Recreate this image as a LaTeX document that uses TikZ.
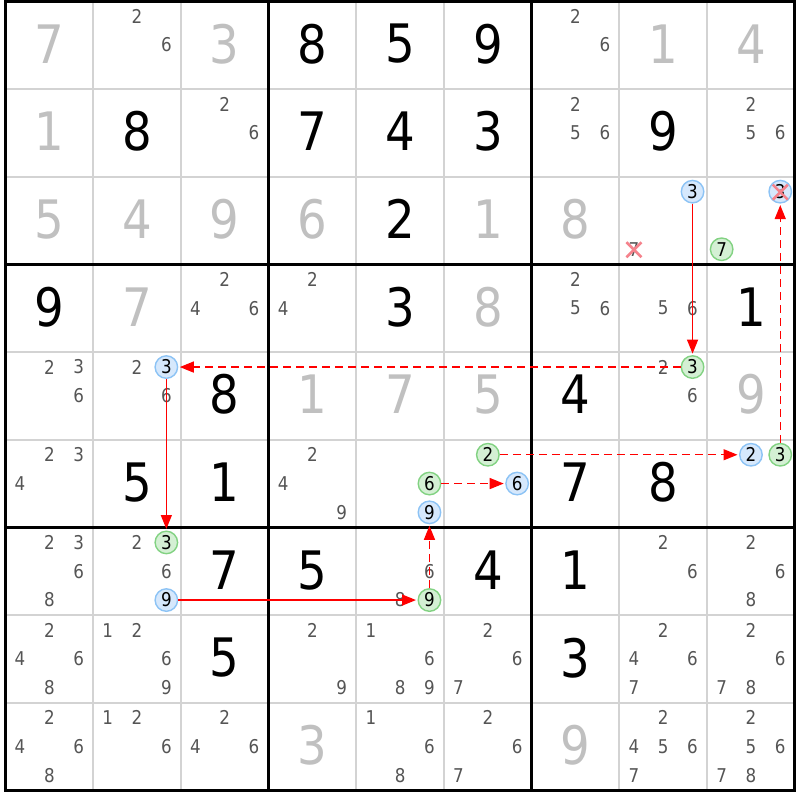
\documentclass[tikz,border=0pt]{standalone}
\usepackage{fontspec}
\setmainfont{DejaVu Sans}[FakeStretch=0.88]
\usetikzlibrary{arrows.meta}
\definecolor{gridgray}{RGB}{211,211,211}
\definecolor{givgray}{RGB}{192,192,192}
\definecolor{candgray}{RGB}{85,85,85}
\definecolor{bluefill}{RGB}{214,232,252}
\definecolor{blueline}{RGB}{140,195,245}
\definecolor{greenfill}{RGB}{212,240,212}
\definecolor{greenline}{RGB}{130,210,130}
\definecolor{xred}{RGB}{245,130,140}
\def\cs{87.7}
\def\xo{5.5}
\def\yo{1.5}
\newcommand\mygv[4]{\node[bigdig,text=#4] (g#1#2) at ({\xo+(#2-0.5)*\cs},{\yo+(#1-0.5)*\cs-1.5}) {#3};}
\newcommand\mycand[4]{%
 \pgfmathsetmacro\mycx{\xo+(#2-0.5)*\cs+(mod(#3-1,3)-1)*29.3}%
 \pgfmathsetmacro\mycy{\yo+(#1-0.5)*\cs+(floor((#3-1)/3)-1)*28.8-0.3}%
 \node[cand,#4] (c#1#2#3) at (\mycx,\mycy) {#3};}
\newcommand\mycl[3]{\foreach \dg in {#3}{\mycand{#1}{#2}{\dg}{}}}
\tikzset{
 bigdig/.style={inner sep=0pt, font=\fontsize{53}{53}\selectfont},
 cand/.style={circle, inner sep=0pt, minimum size=22.5pt, text=candgray, font=\fontsize{19}{19}\selectfont},
 bluec/.style={fill=bluefill, draw=blueline, line width=1.4pt, text=black},
 greenc/.style={fill=greenfill, draw=greenline, line width=1.4pt, text=black},
 arr/.style={red, line width=1.4pt, -{Triangle[length=14pt,width=11pt]}, shorten >=1.5pt},
 dsh/.style={dash pattern=on 8pt off 5pt},
 xm/.style={draw=xred, line width=2.6pt},
 gridthin/.style={draw=gridgray, line width=2pt},
 gridthick/.style={draw=black, line width=3pt},
}
\begin{document}
\begin{tikzpicture}[x=1pt,y=-1pt]
\useasboundingbox[fill=white] (0,0) rectangle (800,800);
% grid
\foreach \i in {1,2,4,5,7,8}{
 \draw[gridthin] ({\xo+\i*\cs},\yo) -- ({\xo+\i*\cs},{\yo+9*\cs});
 \draw[gridthin] (\xo,{\yo+\i*\cs}) -- ({\xo+9*\cs},{\yo+\i*\cs});
}
\foreach \i in {0,3,6,9}{
 \draw[gridthick] ({\xo+\i*\cs},\yo-1.5) -- ({\xo+\i*\cs},{\yo+9*\cs+1.5});
 \draw[gridthick] (\xo-1.5,{\yo+\i*\cs}) -- ({\xo+9*\cs+1.5},{\yo+\i*\cs});
}
% large digits
\mygv{1}{1}{7}{givgray}\mygv{1}{3}{3}{givgray}\mygv{1}{4}{8}{black}\mygv{1}{5}{5}{black}\mygv{1}{6}{9}{black}\mygv{1}{8}{1}{givgray}\mygv{1}{9}{4}{givgray}
\mygv{2}{1}{1}{givgray}\mygv{2}{2}{8}{black}\mygv{2}{4}{7}{black}\mygv{2}{5}{4}{black}\mygv{2}{6}{3}{black}\mygv{2}{8}{9}{black}
\mygv{3}{1}{5}{givgray}\mygv{3}{2}{4}{givgray}\mygv{3}{3}{9}{givgray}\mygv{3}{4}{6}{givgray}\mygv{3}{5}{2}{black}\mygv{3}{6}{1}{givgray}\mygv{3}{7}{8}{givgray}
\mygv{4}{1}{9}{black}\mygv{4}{2}{7}{givgray}\mygv{4}{5}{3}{black}\mygv{4}{6}{8}{givgray}\mygv{4}{9}{1}{black}
\mygv{5}{3}{8}{black}\mygv{5}{4}{1}{givgray}\mygv{5}{5}{7}{givgray}\mygv{5}{6}{5}{givgray}\mygv{5}{7}{4}{black}\mygv{5}{9}{9}{givgray}
\mygv{6}{2}{5}{black}\mygv{6}{3}{1}{black}\mygv{6}{7}{7}{black}\mygv{6}{8}{8}{black}
\mygv{7}{3}{7}{black}\mygv{7}{4}{5}{black}\mygv{7}{6}{4}{black}\mygv{7}{7}{1}{black}
\mygv{8}{3}{5}{black}\mygv{8}{7}{3}{black}
\mygv{9}{4}{3}{givgray}\mygv{9}{7}{9}{givgray}
% candidates
\mycl{1}{2}{2,6}\mycl{1}{7}{2,6}
\mycl{2}{3}{2,6}\mycl{2}{7}{2,5,6}\mycl{2}{9}{2,5,6}
\mycand{3}{8}{3}{bluec}\mycand{3}{8}{7}{}
\mycand{3}{9}{3}{bluec}\mycand{3}{9}{7}{greenc}
\mycl{4}{3}{2,4,6}\mycl{4}{4}{2,4}\mycl{4}{7}{2,5,6}\mycl{4}{8}{5,6}
\mycl{5}{1}{2,3,6}\mycl{5}{2}{2,6}\mycand{5}{2}{3}{bluec}\mycl{5}{8}{2,6}\mycand{5}{8}{3}{greenc}
\mycl{6}{1}{2,3,4}\mycl{6}{4}{2,4,9}\mycand{6}{5}{6}{greenc}\mycand{6}{5}{9}{bluec}
\mycand{6}{6}{2}{greenc}\mycand{6}{6}{6}{bluec}\mycand{6}{9}{2}{bluec}\mycand{6}{9}{3}{greenc}
\mycl{7}{1}{2,3,6,8}\mycl{7}{2}{2,6}\mycand{7}{2}{3}{greenc}\mycand{7}{2}{9}{bluec}
\mycl{7}{5}{6,8}\mycand{7}{5}{9}{greenc}\mycl{7}{8}{2,6}\mycl{7}{9}{2,6,8}
\mycl{8}{1}{2,4,6,8}\mycl{8}{2}{1,2,6,9}\mycl{8}{4}{2,9}\mycl{8}{5}{1,6,8,9}\mycl{8}{6}{2,6,7}\mycl{8}{8}{2,4,6,7}\mycl{8}{9}{2,6,7,8}
\mycl{9}{1}{2,4,6,8}\mycl{9}{2}{1,2,6}\mycl{9}{3}{2,4,6}\mycl{9}{5}{1,6,8}\mycl{9}{6}{2,6,7}\mycl{9}{8}{2,4,5,6,7}\mycl{9}{9}{2,5,6,7,8}
% chain
\draw[arr] (c383) -- (c583);
\draw[arr,dsh] (c583) -- (c523);
\draw[arr] (c523) -- (c723);
\draw[arr] (c729) -- (c759);
\draw[arr,dsh] (c759) -- (c659);
\draw[arr,dsh] (c656) -- (c666);
\draw[arr,dsh] (c662) -- (c692);
\draw[arr,dsh] (c693) -- (c393);
% eliminations
\draw[xm] (c387.center) +(-7.5,-7) -- +(7.5,8) +(-7.5,8) -- +(7.5,-7);
\draw[xm] (c393.center) +(-7.5,-7) -- +(7.5,8) +(-7.5,8) -- +(7.5,-7);
\end{tikzpicture}
\end{document}
